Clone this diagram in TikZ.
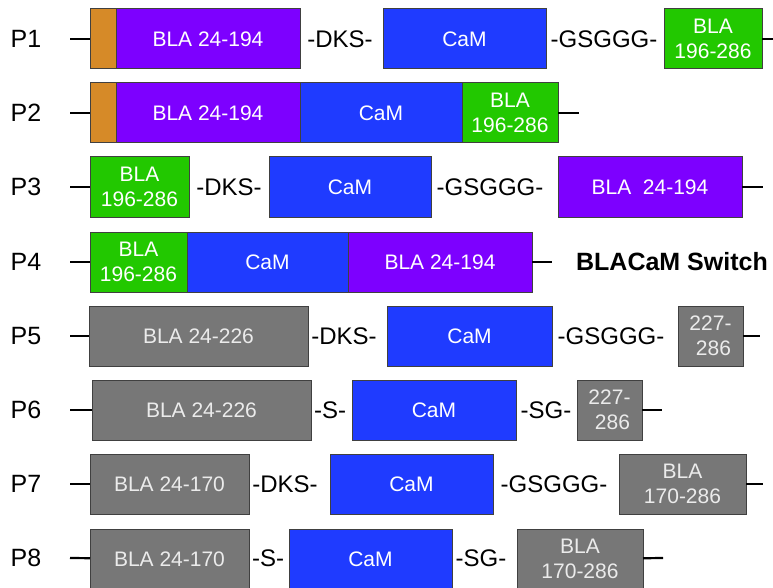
\documentclass[tikz,border=0pt]{standalone}
\usepackage{fontspec}
\setmainfont{Liberation Sans}
\usetikzlibrary{positioning}
\definecolor{tagorange}{HTML}{D68A28}
\definecolor{blapurple}{HTML}{7D00FF}
\definecolor{camblue}{HTML}{1F3BFF}
\definecolor{blagreen}{HTML}{22C800}
\definecolor{blagray}{HTML}{777777}

\begin{document}
\begin{tikzpicture}[x=1pt,y=-1pt,
  box/.style={draw=black!75,line width=1pt,minimum height=60pt,inner sep=0pt,outer sep=0pt,anchor=west,align=center,text=white,font=\fontsize{21}{25}\selectfont},
  tag/.style={box,fill=tagorange},
  bla/.style={box,fill=blapurple},
  cam/.style={box,fill=camblue},
  grn/.style={box,fill=blagreen},
  gry/.style={box,fill=blagray,text=black!8},
  link/.style={font=\fontsize{24}{28}\selectfont,inner sep=0pt},
  lbl/.style={font=\fontsize{25}{29}\selectfont,inner sep=0pt},
  tail/.style={line width=2.2pt}]
\useasboundingbox (0,0) rectangle (773,588);
% P1
\node[lbl] (p1) at (26,39) {P1};
\coordinate (p1s) at (70,39);
\node[tag,minimum width=26pt] (p1a) at (90,39) {};
\node[bla,minimum width=184pt,right=0pt of p1a] (p1b) {BLA 24-194};
\node[link] (p1l1) at (340,39) {-DKS-};
\node[cam,minimum width=163pt] (p1c) at (383,39) {CaM};
\node[link] (p1l2) at (604,39) {-GSGGG-};
\node[grn,minimum width=98pt] (p1d) at (664,39) {BLA\\196-286};
\coordinate (p1e) at (773,39);
\draw[tail] (p1s) -- (p1a);
\draw[tail] (p1d) -- (p1e);
% P2
\node[lbl] (p2) at (26,113) {P2};
\coordinate (p2s) at (70,113);
\node[tag,minimum width=26pt] (p2a) at (90,113) {};
\node[bla,minimum width=184pt,right=0pt of p2a] (p2b) {BLA 24-194};
\node[cam,minimum width=162pt,right=0pt of p2b] (p2c) {CaM};
\node[grn,minimum width=96pt,right=0pt of p2c] (p2d) {BLA\\196-286};
\coordinate (p2e) at (579,113);
\draw[tail] (p2s) -- (p2a);
\draw[tail] (p2d) -- (p2e);
% P3
\node[lbl] (p3) at (26,187) {P3};
\coordinate (p3s) at (70,187);
\node[grn,minimum width=99pt] (p3a) at (90,187) {BLA\\196-286};
\node[link] (p3l1) at (229,187) {-DKS-};
\node[cam,minimum width=162pt] (p3b) at (269,187) {CaM};
\node[link] (p3l2) at (490,187) {-GSGGG-};
\node[bla,minimum width=184pt] (p3c) at (558,187) {BLA\ \ 24-194};
\coordinate (p3e) at (763,187);
\draw[tail] (p3s) -- (p3a);
\draw[tail] (p3c) -- (p3e);
% P4
\node[lbl] (p4) at (26,262) {P4};
\coordinate (p4s) at (70,262);
\node[grn,minimum width=97pt] (p4a) at (90,262) {BLA\\196-286};
\node[cam,minimum width=161pt,right=0pt of p4a] (p4b) {CaM};
\node[bla,minimum width=184pt,right=0pt of p4b] (p4c) {BLA 24-194};
\coordinate (p4e) at (552,262);
\node[lbl,font=\fontsize{25}{29}\selectfont\bfseries] (sw) at (672,262) {BLACaM Switch};
\draw[tail] (p4s) -- (p4a);
\draw[tail] (p4c) -- (p4e);
% P5
\node[lbl] (p5) at (26,336) {P5};
\coordinate (p5s) at (70,336);
\node[gry,minimum width=219pt] (p5a) at (89,336) {BLA 24-226};
\node[link] (p5l1) at (344,336) {-DKS-};
\node[cam,minimum width=165pt] (p5b) at (387,336) {CaM};
\node[link] (p5l2) at (611,336) {-GSGGG-};
\node[gry,minimum width=65pt] (p5c) at (678,336) {227-\\\ 286};
\coordinate (p5e) at (760,336);
\draw[tail] (p5s) -- (p5a);
\draw[tail] (p5c) -- (p5e);
% P6
\node[lbl] (p6) at (26,410) {P6};
\coordinate (p6s) at (70,410);
\node[gry,minimum width=219pt] (p6a) at (92,410) {BLA 24-226};
\node[link] (p6l1) at (330,410) {-S-};
\node[cam,minimum width=164pt] (p6b) at (352,410) {CaM};
\node[link] (p6l2) at (546,410) {-SG-};
\node[gry,minimum width=65pt] (p6c) at (577,410) {227-\\\ 286};
\coordinate (p6e) at (662,410);
\draw[tail] (p6s) -- (p6a);
\draw[tail] (p6c) -- (p6e);
% P7
\node[lbl] (p7) at (26,484) {P7};
\coordinate (p7s) at (70,484);
\node[gry,minimum width=159pt] (p7a) at (90,484) {BLA 24-170};
\node[link] (p7l1) at (285,484) {-DKS-};
\node[cam,minimum width=163pt] (p7b) at (330,484) {CaM};
\node[link] (p7l2) at (554,484) {-GSGGG-};
\node[gry,minimum width=127pt] (p7c) at (619,484) {BLA\\170-286};
\coordinate (p7e) at (763,484);
\draw[tail] (p7s) -- (p7a);
\draw[tail] (p7c) -- (p7e);
% P8
\node[lbl] (p8) at (26,558) {P8};
\coordinate (p8s) at (70,558);
\node[gry,minimum width=159pt] (p8a) at (90,559) {BLA 24-170};
\node[link] (p8l1) at (268,558) {-S-};
\node[cam,minimum width=163pt] (p8b) at (289,559) {CaM};
\node[link] (p8l2) at (481,558) {-SG-};
\node[gry,minimum width=126pt] (p8c) at (517,559) {BLA\\170-286};
\coordinate (p8e) at (663,558);
\draw[tail] (p8s) -- (p8a);
\draw[tail] (p8c) -- (p8e);
\end{tikzpicture}
\end{document}
